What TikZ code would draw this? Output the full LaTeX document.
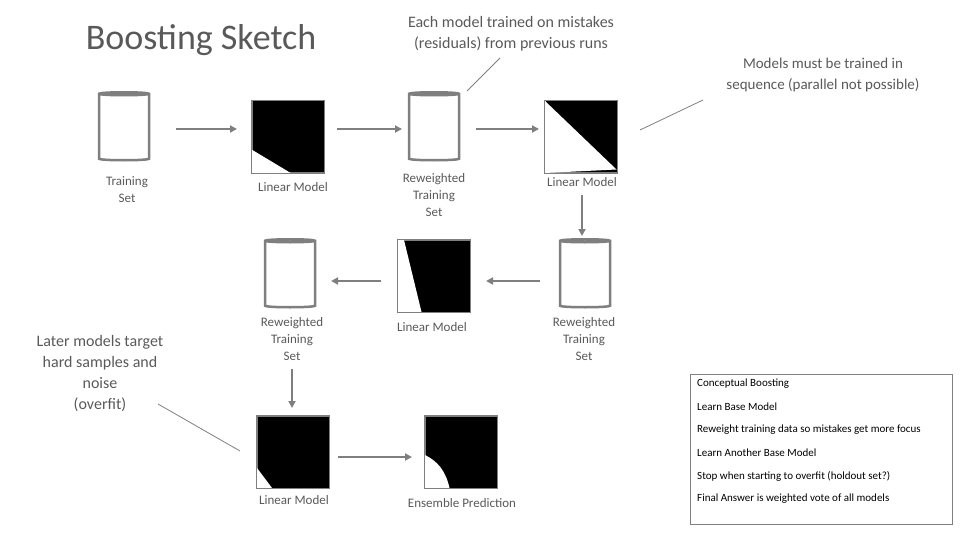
\documentclass[tikz,border=0pt]{standalone}
\usepackage{fontspec}
\setmainfont{Carlito}
\usetikzlibrary{shapes.geometric,arrows.meta}
\definecolor{txt}{HTML}{595959}
\definecolor{ln}{HTML}{7F7F7F}
\begin{document}
\begin{tikzpicture}[x=1pt,y=-1pt,
  db/.style={cylinder,shape border rotate=90,draw=ln,line width=2.5pt,minimum width=50pt,minimum height=68pt,aspect=0.45,fill=white},
  lbl/.style={text=txt,font=\fontsize{13}{17}\selectfont,align=center},
  ann/.style={text=txt,font=\fontsize{16}{21}\selectfont,align=center},
  arr/.style={draw=ln,line width=2pt,-{Triangle[length=7pt,width=7pt]}},
  pt/.style={draw=ln,line width=0.8pt},
  img/.style={draw=ln,line width=1pt,fill=black,minimum size=72pt,inner sep=0pt}]
\useasboundingbox (0,0) rectangle (960,540);
\node[text=txt,font=\fontsize{36}{40}\selectfont] (title) at (201,40) {Boosting Sketch};
% cylinders
\node[db] (c1) at (124,128) {};
\node[db] (c2) at (434,128) {};
\node[db] (c3) at (290,275) {};
\node[db] (c4) at (585,275) {};
% images
\node[img] (i1) at (288,137) {};
\node[img] (i2) at (581,137) {};
\node[img] (i3) at (434,276) {};
\node[img] (i4) at (293,452) {};
\node[img] (i5) at (461,452) {};
\fill[white] (i1.south west) -- ++(0,-24) -- ++(40,24) -- cycle;
\fill[white] ([shift={(0.5,0.5)}]i2.north west) -- ([shift={(72,-4)}]i2.south west) -- ([shift={(0.5,-0.5)}]i2.south west) -- cycle;
\fill[white] ([shift={(0.5,0.5)}]i3.north west) -- ++(6,0) -- ([shift={(24,-0.5)}]i3.south west) -- ([shift={(0.5,-0.5)}]i3.south west) -- cycle;
\fill[white] ([shift={(0.5,-0.5)}]i4.south west) -- ++(0,-20) -- ++(15,20) -- cycle;
\fill[white] ([shift={(0.5,-0.5)}]i5.south west) -- ++(0,-33) .. controls ++(12,6) and ++(-4,-18) .. ([shift={(25,-0.5)}]i5.south west) -- cycle;
\foreach \i in {i1,i2,i3,i4,i5} \draw[ln,line width=1pt] (\i.north west) rectangle (\i.south east);
% labels
\node[lbl] (l1) at (127,190) {Training\\Set};
\node[lbl] (l2) at (293,187) {Linear Model};
\node[lbl] (l3) at (434,195) {Reweighted\\Training\\Set};
\node[lbl] (l4) at (582,182) {Linear Model};
\node[lbl] (l5) at (292,339) {Reweighted\\Training\\Set};
\node[lbl] (l6) at (432,327) {Linear Model};
\node[lbl] (l7) at (584,339) {Reweighted\\Training\\Set};
\node[lbl] (l8) at (294,500) {Linear Model};
\node[lbl] (l9) at (462,503) {Ensemble Prediction};
% arrows
\coordinate (a1s) at (176,129); \coordinate (a1e) at (237,129);
\draw[arr] (a1s) -- (a1e);
\coordinate (a2s) at (337,129); \coordinate (a2e) at (402,129);
\draw[arr] (a2s) -- (a2e);
\coordinate (a3s) at (476,129); \coordinate (a3e) at (539,129);
\draw[arr] (a3s) -- (a3e);
\coordinate (a4s) at (582,195); \coordinate (a4e) at (582,236);
\draw[arr] (a4s) -- (a4e);
\coordinate (a5s) at (540,281); \coordinate (a5e) at (486,281);
\draw[arr] (a5s) -- (a5e);
\coordinate (a6s) at (381,281); \coordinate (a6e) at (331,281);
\draw[arr] (a6s) -- (a6e);
\coordinate (a7s) at (292,369); \coordinate (a7e) at (292,408);
\draw[arr] (a7s) -- (a7e);
\coordinate (a8s) at (338,457); \coordinate (a8e) at (412,457);
\draw[arr] (a8s) -- (a8e);
% annotations
\node[ann] (n1) at (511,34) {Each model trained on mistakes\\(residuals) from previous runs};
\coordinate (p1) at (467,91);
\draw[pt] (500,58) -- (p1);
\node[ann,font=\fontsize{15}{21}\selectfont] (n2) at (823,75) {Models must be trained in\\sequence (parallel not possible)};
\coordinate (p2) at (640,130);
\draw[pt] (703,100) -- (p2);
\node[ann] (n3) at (100,374) {Later models target\\hard samples and\\noise\\(overfit)};
\coordinate (p3) at (240,451);
\draw[pt] (158,404) -- (p3);
% box
\node[draw=ln,line width=0.8pt,minimum width=262pt,minimum height=150pt,anchor=north west,inner sep=0pt] (box) at (690,374) {};
\foreach \t [count=\k from 0] in {Conceptual Boosting,Learn Base Model,Reweight training data so mistakes get more focus,Learn Another Base Model,Stop when starting to overfit (holdout set?),Final Answer is weighted vote of all models}
  \node[anchor=west,inner sep=0pt,font=\fontsize{11}{13}\selectfont] at (697,384+23*\k) {\t};
\end{tikzpicture}
\end{document}
